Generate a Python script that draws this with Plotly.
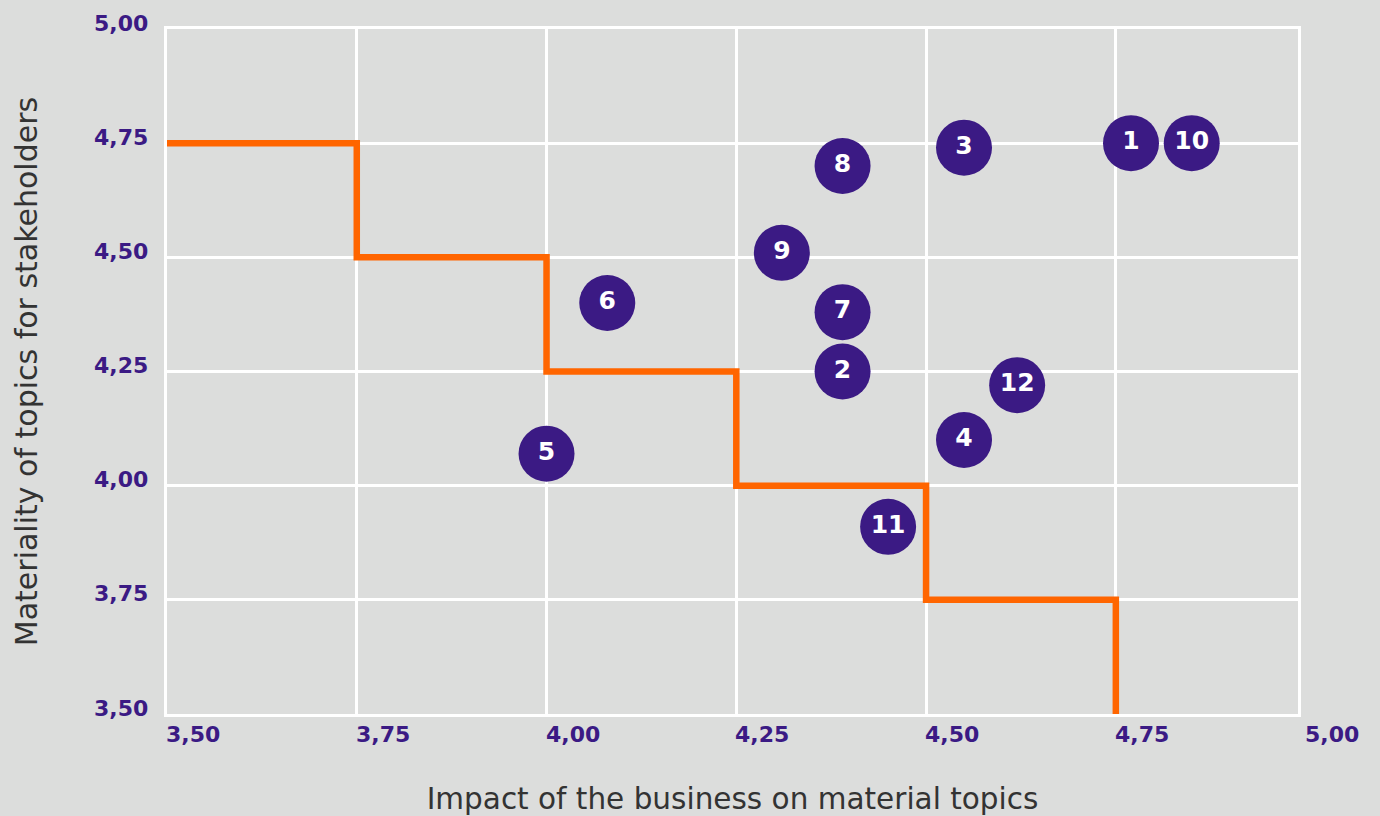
import plotly.graph_objects as go

# ---- data ----
topic_ids = ["1", "2", "3", "4", "5", "6", "7", "8", "9", "10", "11", "12"]
impact_business = [4.77, 4.39, 4.55, 4.55, 4.00, 4.08, 4.39, 4.39, 4.31, 4.85, 4.45, 4.62]
materiality_stakeholders = [4.75, 4.25, 4.74, 4.10, 4.07, 4.40, 4.38, 4.70, 4.51, 4.75, 3.91, 4.22]

threshold_x = [3.50, 3.75, 3.75, 4.00, 4.00, 4.25, 4.25, 4.50, 4.50, 4.75, 4.75]
threshold_y = [4.75, 4.75, 4.50, 4.50, 4.25, 4.25, 4.00, 4.00, 3.75, 3.75, 3.50]

x_tick_vals = [3.50, 3.75, 4.00, 4.25, 4.50, 4.75, 5.00]
x_tick_text = ["3,50", "3,75", "4,00", "4,25", "4,50", "4,75", "5,00"]
y_tick_vals = [3.50, 3.75, 4.00, 4.25, 4.50, 4.75, 5.00]
y_tick_text = ["3,50", "3,75", "4,00", "4,25", "4,50", "4,75", "5,00"]

x_title = "Impact of the business on material topics"
y_title = "Materiality of topics for stakeholders"

# ---- styles ----
BG = "#dcdddc"
PURPLE = "#3b1a84"
ORANGE = "#ff6500"
TICK_FONT = dict(family="DejaVu Sans", size=22, color=PURPLE, weight="bold")
X_RANGE = [3.5, 4.99]

fig = go.Figure()

fig.add_trace(go.Scatter(
    x=threshold_x, y=threshold_y, mode="lines",
    line=dict(color=ORANGE, width=6.5), hoverinfo="skip", showlegend=False,
))

fig.add_trace(go.Scatter(
    x=impact_business, y=materiality_stakeholders, mode="markers+text",
    text=topic_ids, textposition="middle center",
    textfont=dict(family="DejaVu Sans", size=25, color="white", weight="bold"),
    marker=dict(size=56, color=PURPLE, line=dict(width=0)),
    showlegend=False, cliponaxis=False,
))

annotations = []
for v, t in zip(x_tick_vals, x_tick_text):
    annotations.append(dict(
        x=(v - X_RANGE[0]) / (X_RANGE[1] - X_RANGE[0]), y=0,
        xref="paper", yref="paper", text=t, showarrow=False,
        xanchor="left", yanchor="top", yshift=-6, xshift=-3, font=TICK_FONT,
    ))
for v, t in zip(y_tick_vals, y_tick_text):
    annotations.append(dict(
        x=0, y=v, xref="paper", yref="y", text=t, showarrow=False,
        xanchor="right", yanchor="middle", xshift=-17, yshift=6, font=TICK_FONT,
    ))

fig.update_layout(
    width=1380, height=816,
    paper_bgcolor=BG, plot_bgcolor=BG,
    margin=dict(l=167, r=82, t=29, b=102),
    annotations=annotations,
    xaxis=dict(
        range=X_RANGE, tickvals=x_tick_vals, showticklabels=False,
        showgrid=True, gridcolor="white", gridwidth=3,
        showline=True, linecolor="white", linewidth=3, mirror=True,
        zeroline=False, ticks="", automargin=False,
        title=dict(text=x_title, font=dict(family="DejaVu Sans", size=29.5, color="#333333"),
                   standoff=76),
    ),
    yaxis=dict(
        range=[3.5, 5.0], tickvals=y_tick_vals, showticklabels=False,
        showgrid=True, gridcolor="white", gridwidth=3,
        showline=True, linecolor="white", linewidth=3, mirror=True,
        zeroline=False, ticks="", automargin=False,
        title=dict(text=y_title, font=dict(family="DejaVu Sans", size=30, color="#333333"),
                   standoff=118),
    ),
)

fig.write_html("out.html")
